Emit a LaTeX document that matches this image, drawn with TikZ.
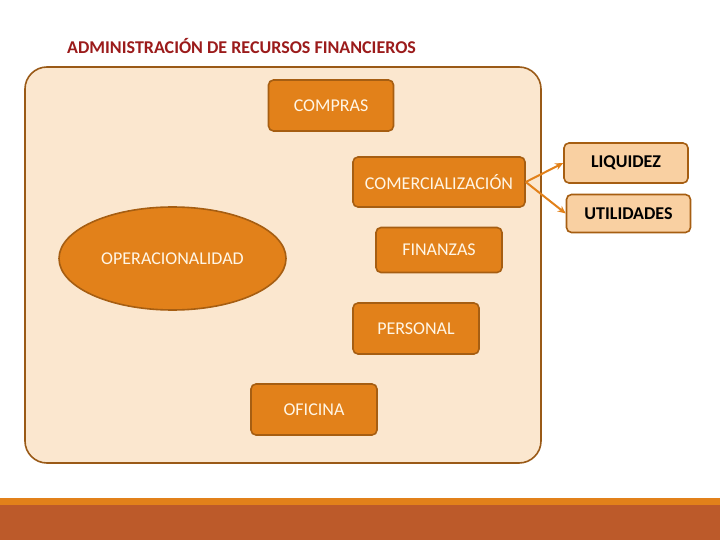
\documentclass[tikz,border=0pt]{standalone}
\usepackage{fontspec}
\setmainfont{Carlito}
\usetikzlibrary{shapes.geometric,arrows.meta}
\definecolor{panelfill}{HTML}{FBE7CF}
\definecolor{panelline}{HTML}{9A5A17}
\definecolor{boxfill}{HTML}{E2811A}
\definecolor{boxline}{HTML}{A65E12}
\definecolor{lightfill}{HTML}{F9D0A2}
\definecolor{titlered}{HTML}{9B1B1B}
\definecolor{rust}{HTML}{BC5A2A}
\definecolor{cream}{HTML}{FFF6E6}
\tikzset{
  orbox/.style={draw=boxline, line width=1.6pt, fill=boxfill, rounded corners=5pt,
    minimum width=125pt, text=cream, font=\fontsize{18}{21}\selectfont, inner sep=0pt},
  ltbox/.style={draw=boxline, line width=1.6pt, fill=lightfill, rounded corners=5pt,
    minimum width=124pt, text=black, font=\bfseries\fontsize{18}{21}\selectfont, inner sep=0pt},
  conn/.style={draw=boxfill, line width=2pt, -{Stealth[length=8pt,width=7pt]}}
}
\begin{document}
\begin{tikzpicture}[x=1pt,y=-1pt]
\useasboundingbox (0,0) rectangle (720,540);
\fill[white] (0,0) rectangle (720,540);
% bottom bands
\fill[boxfill] (0,498) rectangle (720,505);
\fill[rust] (0,505) rectangle (720,540);
% title
\node[anchor=west, text=titlered, font=\bfseries\fontsize{18}{21}\selectfont, inner sep=0pt] (title) at (67,46) {ADMINISTRACIÓN DE RECURSOS FINANCIEROS};
% panel
\draw[draw=panelline, fill=panelfill, line width=1.6pt, rounded corners=22pt] (25,67) rectangle (541,463);
% nodes
\node[orbox, minimum height=51pt] (compras) at (331,105.5) {COMPRAS};
\node[orbox, minimum width=172pt, minimum height=50pt] (comer) at (439,182) {COMERCIALIZACIÓN};
\node[orbox, minimum width=126pt, minimum height=45pt] (fin) at (439,250) {FINANZAS};
\node[orbox, minimum width=126pt, minimum height=51pt] (pers) at (416,328.5) {PERSONAL};
\node[orbox, minimum width=126pt, minimum height=51pt] (ofi) at (314,409.5) {OFICINA};
\node[ellipse, draw=boxline, line width=1.6pt, fill=boxfill, minimum width=227pt, minimum height=103pt,
  text=cream, font=\fontsize{18}{21}\selectfont, inner sep=0pt] (oper) at (172.5,258.5) {OPERACIONALIDAD};
\node[ltbox, minimum height=40pt] (liq) at (626,163) {LIQUIDEZ};
\node[ltbox, minimum height=38pt] (util) at (628.5,213.5) {UTILIDADES};
% connectors
\draw[conn] (comer.east) -- (liq.west);
\draw[conn] (comer.east) -- (util.west);
\end{tikzpicture}
\end{document}
